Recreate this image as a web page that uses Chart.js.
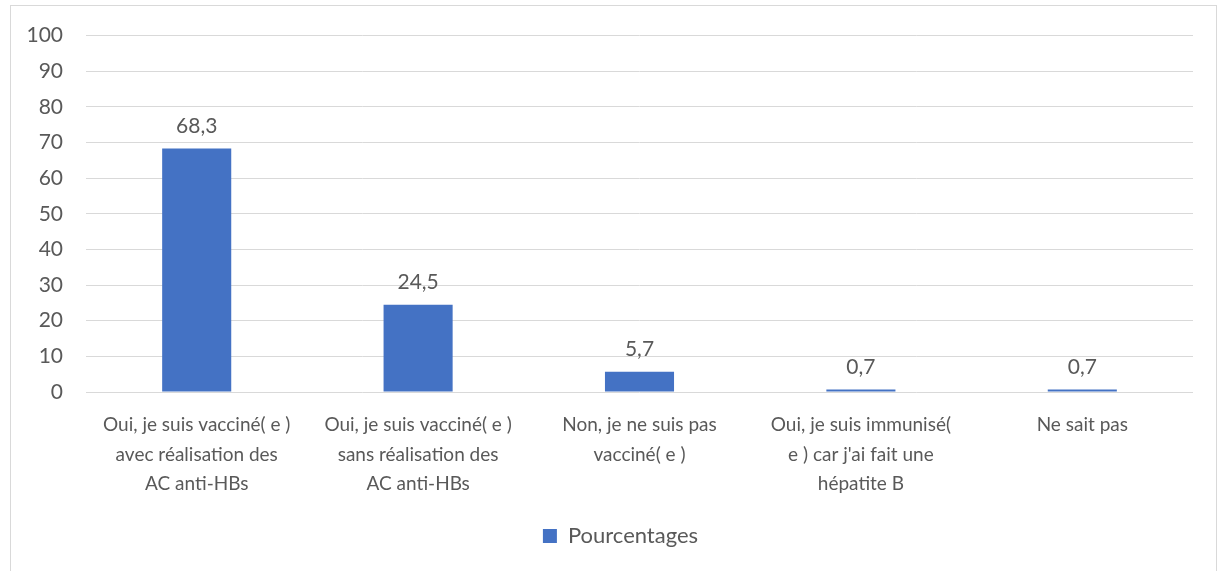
<!DOCTYPE html>
<html>
<head>
<meta charset="utf-8">
<script src="https://cdn.jsdelivr.net/npm/chart.js@4/dist/chart.umd.min.js"></script>
<style>
  html, body { margin: 0; padding: 0; background: #fff; }
  #wrap { position: relative; width: 1220px; height: 571px; }
  #frame { position: absolute; left: 10px; top: 5px; width: 1207px; height: 580px; border: 1px solid #d9d9d9; box-sizing: border-box; }
  canvas { position: absolute; left: 0; top: 0; }
</style>
</head>
<body>
<div id="wrap">
  <div id="frame"></div>
  <canvas id="chart" width="1220" height="571"></canvas>
</div>
<script>
// categories (pre-wrapped like the original)
const categories = [
  ["Oui, je suis vacciné( e )", "avec réalisation des", "AC anti-HBs"],
  ["Oui, je suis vacciné( e )", "sans réalisation des", "AC anti-HBs"],
  ["Non, je ne suis pas", "vacciné( e )"],
  ["Oui, je suis immunisé(", "e ) car j'ai fait une", "hépatite B"],
  ["Ne sait pas"]
];
const seriesName = "Pourcentages";
const values = [68.3, 24.5, 5.7, 0.7, 0.7];
const yTicks = [0, 10, 20, 30, 40, 50, 60, 70, 80, 90, 100];

const TEXT = "#595959";
const BLUE = "#4472C4";
const GRID = "#d9d9d9";
const FONT = "Lato, 'Open Sans', sans-serif";

// value labels above the bars, french decimal comma
const valueLabels = {
  id: "valueLabels",
  afterDatasetsDraw(chart) {
    const { ctx } = chart;
    const meta = chart.getDatasetMeta(0);
    ctx.save();
    ctx.font = "21px " + FONT;
    ctx.fillStyle = TEXT;
    ctx.textAlign = "center";
    ctx.textBaseline = "alphabetic";
    meta.data.forEach((bar, i) => {
      ctx.fillText(values[i].toFixed(1).replace(".", ","), bar.x, bar.y - 16);
    });
    ctx.restore();
  }
};

// nudge the legend so it sits a bit right of canvas centre, like the original
const legendShift = {
  id: "legendShift",
  afterLayout(chart) {
    chart.legend.left += 24;
    chart.legend.right += 24;
  }
};

new Chart(document.getElementById("chart"), {
  type: "bar",
  data: {
    labels: categories,
    datasets: [{
      label: seriesName,
      data: values,
      backgroundColor: BLUE,
      categoryPercentage: 1,
      barPercentage: 0.312
    }]
  },
  options: {
    responsive: false,
    animation: false,
    layout: { padding: { top: 34, right: 27, bottom: 14, left: 0 } },
    plugins: {
      legend: {
        position: "bottom",
        labels: {
          color: TEXT,
          font: { family: FONT, size: 22 },
          boxWidth: 14,
          boxHeight: 14,
          padding: 10
        }
      },
      tooltip: { enabled: false }
    },
    scales: {
      x: {
        grid: { display: false, drawTicks: false },
        border: { display: false },
        ticks: {
          color: TEXT,
          font: { family: FONT, size: 19, lineHeight: 1.563 },
          padding: 18,
          autoSkip: false,
          maxRotation: 0,
          minRotation: 0
        },
        afterFit(scale) { scale.height = 123; }
      },
      y: {
        min: 0,
        max: 100,
        afterBuildTicks(scale) { scale.ticks = yTicks.map(v => ({ value: v })); },
        grid: { color: GRID, lineWidth: 1, drawTicks: false },
        border: { display: false },
        ticks: {
          color: TEXT,
          font: { family: FONT, size: 21 },
          padding: 23
        },
        afterFit(scale) { scale.width = 86; }
      }
    }
  },
  plugins: [valueLabels, legendShift]
});
</script>
</body>
</html>
